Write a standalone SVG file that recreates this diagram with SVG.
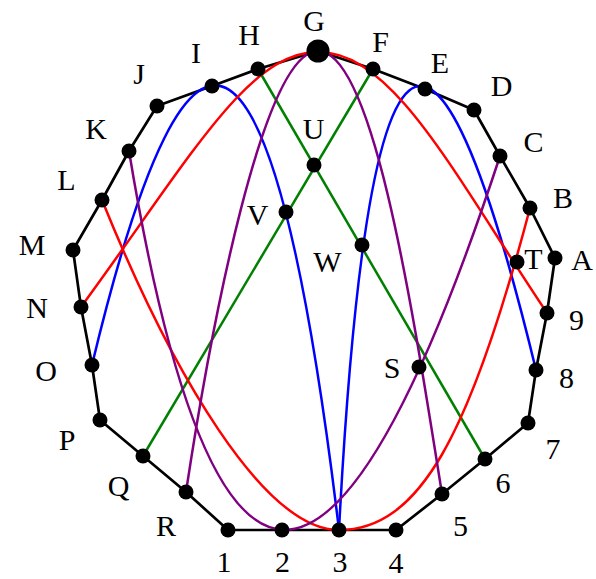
<svg xmlns="http://www.w3.org/2000/svg" width="596" height="579" viewBox="0 0 596 579">
<style>
.e{fill:none;stroke:#000;stroke-width:2.7;stroke-linejoin:round}
.c{fill:none;stroke-width:2.5}
.r{stroke:#ff0000}.b{stroke:#0000ff}.g{stroke:#008000}.p{stroke:#800080}
circle{fill:#000}
text{font-family:"Liberation Serif","Times New Roman",serif;font-size:30px;fill:#000;text-anchor:middle}
</style>
<rect width="596" height="579" fill="#fff"/>
<g id="connectors">
<polygon class="e" points="555,258 530,208 500,156 474,110 425,89 373,69 318,51 258,69 212,86 157,106 129,151 102,200 73,250 81,307 92,365 100,420 143,456 186,492 228,530 282,530 339,530 396,530 442,494 485,459 528,423 536,370 547,313"/>
<path class="c g" d="M258,69 L485,459"/>
<path class="c g" d="M373,69 L143,456"/>
<path class="c b" d="M92,365 Q243.6,-267.2 339,530"/>
<path class="c b" d="M339,530 Q381,-269 536,370"/>
<path class="c r" d="M81,307 C191,157 248,52 318,52 C393,52 452,171 547,313"/>
<path class="c r" d="M102,200 C172,373 264,530 339,530 C419,530 470,436 530,208"/>
<path class="c p" d="M129,151 Q254,906 500,156"/>
<path class="c p" d="M186,492 C211,327 263,51 318,51 C373,51 412,305 442,494"/>
</g>
<g id="A"><circle cx="555" cy="258" r="7.5"/><text x="582" y="270">A</text></g>
<g id="B"><circle cx="530" cy="208" r="7.5"/><text x="563" y="208">B</text></g>
<g id="C"><circle cx="500" cy="156" r="7.5"/><text x="533.5" y="152">C</text></g>
<g id="D"><circle cx="474" cy="110" r="7.5"/><text x="501.5" y="96">D</text></g>
<g id="E"><circle cx="425" cy="89" r="7.5"/><text x="440" y="73">E</text></g>
<g id="F"><circle cx="373" cy="69" r="7.5"/><text x="380.5" y="51.5">F</text></g>
<g id="G"><circle cx="318" cy="51" r="11.5"/><text x="314" y="31">G</text></g>
<g id="H"><circle cx="258" cy="69" r="7.5"/><text x="249" y="45">H</text></g>
<g id="I"><circle cx="212" cy="86" r="7.5"/><text x="196" y="63">I</text></g>
<g id="J"><circle cx="157" cy="106" r="7.5"/><text x="139" y="84">J</text></g>
<g id="K"><circle cx="129" cy="151" r="7.5"/><text x="96" y="139">K</text></g>
<g id="L"><circle cx="102" cy="200" r="7.5"/><text x="66.5" y="190">L</text></g>
<g id="M"><circle cx="73" cy="250" r="7.5"/><text x="32" y="255">M</text></g>
<g id="N"><circle cx="81" cy="307" r="7.5"/><text x="37" y="318">N</text></g>
<g id="O"><circle cx="92" cy="365" r="7.5"/><text x="46" y="381">O</text></g>
<g id="P"><circle cx="100" cy="420" r="7.5"/><text x="67" y="450">P</text></g>
<g id="Q"><circle cx="143" cy="456" r="7.5"/><text x="118.5" y="496">Q</text></g>
<g id="R"><circle cx="186" cy="492" r="7.5"/><text x="166" y="536">R</text></g>
<g id="n1"><circle cx="228" cy="530" r="7.5"/><text x="224" y="572">1</text></g>
<g id="n2"><circle cx="282" cy="530" r="7.5"/><text x="282.5" y="572">2</text></g>
<g id="n3"><circle cx="339" cy="530" r="7.5"/><text x="340" y="572">3</text></g>
<g id="n4"><circle cx="396" cy="530" r="7.5"/><text x="396" y="573">4</text></g>
<g id="n5"><circle cx="442" cy="494" r="7.5"/><text x="460.5" y="536">5</text></g>
<g id="n6"><circle cx="485" cy="459" r="7.5"/><text x="503" y="493">6</text></g>
<g id="n7"><circle cx="528" cy="423" r="7.5"/><text x="553" y="459">7</text></g>
<g id="n8"><circle cx="536" cy="370" r="7.5"/><text x="566.5" y="388">8</text></g>
<g id="n9"><circle cx="547" cy="313" r="7.5"/><text x="576.5" y="330">9</text></g>
<g id="U"><circle cx="314" cy="165" r="7.5"/><text x="313.5" y="139">U</text></g>
<g id="V"><circle cx="286" cy="212" r="7.5"/><text x="257.5" y="225">V</text></g>
<g id="W"><circle cx="362" cy="245" r="7.5"/><text x="327.5" y="272">W</text></g>
<g id="S"><circle cx="419" cy="367" r="7.5"/><text x="392" y="378">S</text></g>
<g id="T"><circle cx="517" cy="262" r="7.5"/><text x="533.5" y="269">T</text></g>
</svg>
